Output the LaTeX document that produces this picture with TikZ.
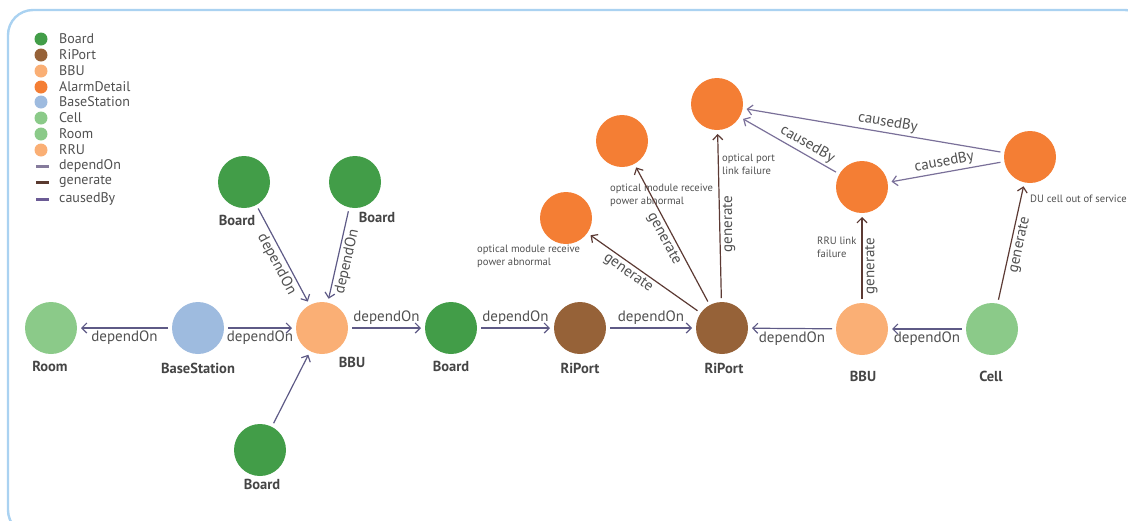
\documentclass[tikz,border=0pt]{standalone}
\usepackage{fontspec}
\setmainfont{PT Sans}
\usetikzlibrary{arrows.meta}

\definecolor{boardc}{HTML}{429D48}
\definecolor{riportc}{HTML}{966238}
\definecolor{bbuc}{HTML}{FAAF75}
\definecolor{alarmc}{HTML}{F47E34}
\definecolor{stationc}{HTML}{9EBBDF}
\definecolor{cellc}{HTML}{8BCA89}
\definecolor{framec}{HTML}{AAD2F1}
\definecolor{textc}{HTML}{505050}
\definecolor{namec}{HTML}{454545}
\definecolor{depc}{HTML}{5E5A86}
\definecolor{genc}{HTML}{5C3A34}
\definecolor{causec}{HTML}{7A7099}
\definecolor{depkey}{HTML}{857B9C}
\definecolor{genkey}{HTML}{5A3A30}
\definecolor{causekey}{HTML}{6B5B95}

\tikzset{
  ent/.style={circle, minimum size=52pt, inner sep=0pt, outer sep=4pt},
  board/.style={ent, fill=boardc},
  riport/.style={ent, fill=riportc},
  bbu/.style={ent, fill=bbuc},
  alarm/.style={ent, fill=alarmc},
  station/.style={ent, fill=stationc},
  cell/.style={ent, fill=cellc},
  entname/.style={font=\bfseries\fontsize{14.5}{16}\selectfont, text=namec, inner sep=0pt},
  alabel/.style={font=\fontsize{10.6}{13}\selectfont, text=textc, align=left, anchor=west, inner sep=0pt},
  elab/.style={font=\fontsize{15}{17}\selectfont, text=textc, inner sep=2.5pt},
  tip/.style={-{Straight Barb[length=5pt,width=10pt]}},
  dep/.style={draw=depc, line width=1.2pt, tip},
  gen/.style={draw=genc, line width=1.2pt, tip},
  cause/.style={draw=causec, line width=1.2pt, tip},
  keydot/.style={circle, minimum size=13pt, inner sep=0pt},
  keytext/.style={font=\fontsize{14}{16}\selectfont, text=textc, anchor=west, inner sep=0pt},
  keybar/.style={line width=3pt},
}

\begin{document}
\begin{tikzpicture}[x=1pt, y=-1pt]
\useasboundingbox (0,0) rectangle (1128,520);
\clip (0,0) rectangle (1128,520);

% outer frame
\draw[framec, line width=2.4pt, rounded corners=25pt] (8,10) rectangle (1150,535);

% legend
\node[keydot, fill=boardc]   (kd1) at (41,39)  {};
\node[keydot, fill=riportc]  (kd2) at (41,55)  {};
\node[keydot, fill=bbuc]     (kd3) at (41,71)  {};
\node[keydot, fill=alarmc]   (kd4) at (41,87)  {};
\node[keydot, fill=stationc] (kd5) at (41,102) {};
\node[keydot, fill=cellc]    (kd6) at (41,118) {};
\node[keydot, fill=cellc]    (kd7) at (41,134) {};
\node[keydot, fill=bbuc]     (kd8) at (41,150) {};
\coordinate (kb1a) at (36,166); \coordinate (kb1b) at (49,166);
\coordinate (kb2a) at (36,182); \coordinate (kb2b) at (49,182);
\coordinate (kb3a) at (36,199); \coordinate (kb3b) at (49,199);
\draw[keybar, depkey]   (kb1a) -- (kb1b);
\draw[keybar, genkey]   (kb2a) -- (kb2b);
\draw[keybar, causekey] (kb3a) -- (kb3b);
\node[keytext] (kt1)  at (59,39)  {Board};
\node[keytext] (kt2)  at (59,55)  {RiPort};
\node[keytext] (kt3)  at (59,71)  {BBU};
\node[keytext] (kt4)  at (59,87)  {AlarmDetail};
\node[keytext] (kt5)  at (59,102) {BaseStation};
\node[keytext] (kt6)  at (59,118) {Cell};
\node[keytext] (kt7)  at (59,134) {Room};
\node[keytext] (kt8)  at (59,150) {RRU};
\node[keytext] (kt9)  at (59,166) {dependOn};
\node[keytext] (kt10) at (59,182) {generate};
\node[keytext] (kt11) at (59,199) {causedBy};

% entities
\node[cell]    (room) at (51,328)  {};
\node[station] (bs)   at (198,328) {};
\node[bbu]     (bbu1) at (322,328) {};
\node[board]   (btl)  at (244,182) {};
\node[board]   (btr)  at (355,182) {};
\node[board]   (bbot) at (260,450) {};
\node[board]   (bmid) at (451,328) {};
\node[riport]  (rp1)  at (580,328) {};
\node[riport]  (rp2)  at (722,328) {};
\node[bbu]     (bbu2) at (862,329) {};
\node[cell]    (cell) at (992,329) {};
\node[alarm]   (a1)   at (566,218) {};
\node[alarm]   (a2)   at (622,141) {};
\node[alarm]   (a3)   at (717,104) {};
\node[alarm]   (a4)   at (862,187) {};
\node[alarm]   (a5)   at (1030,157) {};

% entity names
\node[entname] (nroom) at (50,366)  {Room};
\node[entname] (nbs)   at (198,368) {BaseStation};
\node[entname] (nbbu1) at (352,362) {BBU};
\node[entname] (nbtl)  at (237,220) {Board};
\node[entname] (nbtr)  at (377,217) {Board};
\node[entname] (nbbot) at (262,484) {Board};
\node[entname] (nbmid) at (451,366) {Board};
\node[entname] (nrp1)  at (580,368) {RiPort};
\node[entname] (nrp2)  at (724,368) {RiPort};
\node[entname] (nbbu2) at (863,376) {BBU};
\node[entname] (ncell) at (991,376) {Cell};

% alarm descriptions
\node[alabel] (da1) at (477,256) {optical module receive\\power abnormal};
\node[alabel] (da2) at (610,195) {optical module receive\\power abnormal};
\node[alabel] (da3) at (722,164) {optical port\\link failure};
\node[alabel] (da4) at (817,247) {RRU link\\failure};
\node[alabel] (da5) at (1030,199) {DU cell out of service};

% dependOn relations
\draw[dep] (bs) -- node[elab, below] {dependOn} (room);
\draw[dep] (bs) -- node[elab, below] {dependOn} (bbu1);
\draw[dep] (btl) -- node[elab, sloped, below, pos=0.55] {dependOn} (bbu1);
\draw[dep] (btr) -- node[elab, sloped, below, pos=0.55] {dependOn} (bbu1);
\draw[dep] (bbot) -- (bbu1);
\draw[dep] (bbu1) -- node[elab, above] {dependOn} (bmid);
\draw[dep] (bmid) -- node[elab, above] {dependOn} (rp1);
\draw[dep] (rp1) -- node[elab, above] {dependOn} (rp2);
\draw[dep] (bbu2) -- node[elab, below] {dependOn} (rp2);
\draw[dep] (cell) -- node[elab, below] {dependOn} (bbu2);

% generate relations
\draw[gen] (rp2) -- node[elab, sloped, below, pos=0.6] {generate} (a1);
\draw[gen] (rp2) -- node[elab, sloped, below, pos=0.5] {generate} (a2);
\draw[gen] (rp2) -- node[elab, rotate=90, below, pos=0.45] {generate} (a3);
\draw[gen] (bbu2) -- node[elab, rotate=90, below, pos=0.4] {generate} (a4);
\draw[gen] (cell) -- node[elab, sloped, below, pos=0.5] {generate} (a5);

% causedBy relations
\draw[cause] (a5) -- node[elab, sloped, above, pos=0.45] {causedBy} (a3);
\draw[cause] (a4) -- node[elab, sloped, above, pos=0.36] {causedBy} (a3);
\draw[cause] (a5) -- node[elab, sloped, above, pos=0.5] {causedBy} (a4);
\end{tikzpicture}
\end{document}
